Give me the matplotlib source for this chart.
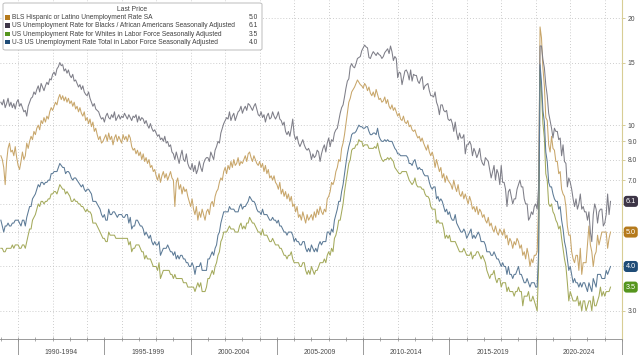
import matplotlib
matplotlib.use("Agg")
import matplotlib.pyplot as plt
import numpy as np
from matplotlib.patches import FancyBboxPatch, Rectangle
from matplotlib.ticker import FixedLocator, NullLocator
from matplotlib.transforms import blended_transform_factory as blend

plt.rcParams['font.family'] = ['Liberation Sans', 'DejaVu Sans']

# monthly values, Jan 1989 .. May 2024
first_year = 1989

hispanic = [
    8.2, 8.0, 7.6, 6.8, 7.9, 8.6, 8.9, 8.4, 8.5, 8.2, 8.7, 8.1,        # 1989
    7.7, 7.5, 7.9, 8.4, 8.0, 8.2, 8.9, 8.6, 9.0, 9.3, 9.1, 9.6,        # 1990
    9.4, 9.8, 10.0, 9.7, 10.3, 10.1, 10.5, 10.2, 10.6, 10.4, 10.9, 11.2,
    11.0, 11.3, 11.6, 11.4, 11.9, 12.2, 11.8, 12.1, 11.7, 12.0, 11.6, 11.9,
    11.5, 11.7, 11.3, 11.6, 11.1, 11.3, 10.9, 11.2, 10.8, 10.6, 10.9, 10.3,
    10.5, 10.1, 10.4, 9.9, 10.2, 9.6, 9.8, 9.4, 9.1, 9.3, 8.9, 9.0,    # 1994
    9.2, 9.4, 9.0, 9.5, 9.1, 9.3, 8.8, 9.2, 9.4, 9.0, 9.3, 9.1,
    8.9, 9.4, 9.1, 9.3, 9.0, 9.4, 9.2, 8.7, 8.5, 8.6, 8.3, 8.5,
    8.2, 8.4, 8.0, 8.3, 7.9, 8.1, 7.8, 8.0, 7.6, 7.7, 7.4, 7.5,
    7.2, 7.0, 7.3, 6.9, 7.2, 7.4, 7.1, 7.3, 7.0, 7.2, 7.4, 7.1,
    7.0, 5.9, 6.9, 7.1, 6.6, 6.8, 6.4, 6.7, 6.5, 6.6, 6.3, 6.1,        # 1999
    5.9, 6.2, 5.8, 5.6, 5.9, 5.4, 5.7, 5.5, 5.8, 5.6, 5.4, 5.7,
    5.8, 5.6, 6.0, 6.1, 5.9, 6.3, 6.5, 6.6, 6.9, 7.1, 7.0, 7.4,
    7.6, 7.3, 7.7, 7.5, 7.9, 7.6, 8.0, 7.7, 7.8, 8.1, 7.7, 7.9,
    7.8, 8.0, 8.2, 7.9, 8.3, 8.4, 8.1, 7.9, 8.2, 8.0, 7.8, 7.7,
    7.9, 7.6, 7.8, 7.4, 7.7, 7.3, 7.5, 7.1, 7.2, 7.0, 7.2, 6.9,        # 2004
    6.8, 6.6, 6.9, 6.4, 6.6, 6.3, 6.5, 6.2, 6.4, 6.1, 6.3, 5.9,
    6.0, 5.7, 5.9, 5.5, 5.6, 5.4, 5.7, 5.5, 5.3, 5.6, 5.4, 5.5,
    5.6, 5.4, 5.7, 5.5, 5.8, 5.6, 5.9, 5.7, 5.6, 5.8, 5.7, 6.2,
    6.3, 6.5, 6.9, 6.8, 7.0, 7.4, 7.6, 8.0, 7.9, 8.6, 8.9, 9.4,
    10.1, 10.8, 11.6, 11.9, 12.4, 12.6, 12.8, 13.1, 13.4, 13.2, 13.0, 12.9,  # 2009
    12.7, 13.1, 12.9, 12.5, 12.8, 12.3, 12.1, 12.4, 12.0, 12.6, 12.2, 11.8,
    11.9, 11.6, 11.7, 12.0, 11.5, 11.8, 11.3, 11.1, 11.4, 11.0, 11.2, 10.9,
    10.6, 10.8, 10.4, 10.3, 10.6, 10.2, 10.1, 10.3, 9.9, 10.0, 9.7, 9.6,
    9.7, 9.4, 9.2, 9.3, 9.0, 9.2, 8.9, 8.7, 8.5, 8.8, 8.4, 8.2,
    8.4, 8.1, 7.6, 8.0, 7.7, 7.4, 7.6, 7.1, 7.3, 6.9, 7.2, 7.0,        # 2014
    6.9, 6.8, 6.6, 7.0, 6.7, 6.5, 6.8, 6.4, 6.3, 6.5, 6.2, 6.4,
    6.2, 6.0, 6.3, 6.1, 5.8, 5.9, 5.7, 5.9, 5.6, 5.8, 5.7, 5.5,
    5.6, 5.4, 5.3, 5.5, 5.2, 5.3, 5.1, 5.0, 5.2, 5.0, 4.9, 5.1,
    5.0, 4.9, 5.1, 4.8, 4.9, 4.6, 4.8, 4.7, 4.5, 4.7, 4.6, 4.8,
    4.7, 4.5, 4.6, 4.3, 4.4, 4.2, 4.5, 4.3, 4.0, 4.2, 4.1, 4.3,        # 2019
    4.3, 4.4, 6.0, 18.9, 17.6, 14.5, 12.9, 10.5, 10.3, 8.8, 8.4, 9.3,
    8.6, 8.5, 7.9, 7.9, 7.3, 7.4, 6.6, 6.4, 6.3, 5.9, 5.2, 4.9,
    4.9, 4.4, 4.2, 4.1, 4.3, 4.3, 3.9, 4.5, 3.8, 4.1, 4.1, 4.1,
    4.6, 5.2, 4.6, 4.4, 4.0, 4.3, 4.4, 4.9, 4.6, 4.8, 5.0, 5.0,
    5.0, 5.0, 4.5, 4.8, 5.0,                                           # 2024
]

black = [
    11.6, 11.4, 11.8, 11.2, 11.5, 11.9, 11.3, 11.6, 11.2, 11.5, 11.1, 11.6,  # 1989
    11.8, 11.3, 11.5, 11.2, 10.9, 11.0, 10.6, 11.3, 11.6, 11.9, 12.0, 12.4,
    12.2, 12.6, 12.9, 12.4, 13.1, 12.8, 12.5, 12.9, 13.2, 13.0, 13.5, 13.4,
    13.9, 14.1, 13.8, 14.4, 14.6, 15.0, 14.7, 14.8, 14.2, 14.4, 14.0, 14.3,
    13.8, 13.6, 13.9, 13.3, 13.4, 13.1, 12.8, 13.0, 12.6, 12.9, 12.4, 12.2,
    12.1, 12.4, 11.9, 11.6, 11.3, 11.5, 11.1, 11.0, 10.9, 10.6, 10.4, 10.5,  # 1994
    10.2, 10.6, 10.8, 10.5, 10.4, 10.7, 10.5, 10.9, 10.3, 10.5, 10.7, 10.4,
    10.6, 10.5, 10.8, 10.6, 10.4, 10.7, 10.5, 10.3, 10.6, 10.5, 10.7, 10.2,
    10.6, 10.3, 10.5, 10.4, 10.1, 10.3, 10.0, 9.8, 10.1, 9.8, 9.6, 9.7,
    9.5, 9.3, 9.4, 9.1, 9.2, 9.0, 9.3, 8.9, 9.0, 8.7, 8.8, 8.4,
    8.3, 8.0, 8.4, 8.1, 7.8, 8.2, 8.5, 8.0, 7.9, 8.3, 7.8, 7.6,        # 1999
    7.5, 7.8, 7.4, 7.7, 7.3, 7.5, 7.9, 7.6, 7.4, 7.8, 8.0, 8.1,
    8.1, 7.9, 8.4, 8.2, 8.0, 8.5, 8.7, 9.0, 8.9, 9.5, 9.8, 10.1,
    10.3, 10.5, 10.4, 10.9, 10.3, 10.6, 10.8, 10.3, 10.6, 10.9, 11.0, 11.3,
    10.8, 11.1, 11.3, 11.0, 11.5, 11.4, 11.2, 11.0, 11.3, 11.5, 11.1, 10.7,
    10.6, 10.9, 10.5, 10.7, 10.2, 10.6, 10.8, 10.4, 10.5, 10.9, 10.6, 10.4,  # 2004
    10.6, 10.9, 10.4, 10.3, 10.0, 10.2, 9.6, 9.4, 9.6, 9.3, 9.8, 10.4,
    9.4, 9.1, 9.3, 8.9, 8.7, 8.9, 9.1, 8.8, 8.6, 8.5, 8.6, 8.4,
    8.0, 8.3, 8.1, 8.2, 8.5, 8.4, 7.9, 8.3, 8.6, 8.8, 8.4, 8.9,
    9.2, 8.7, 9.1, 9.0, 9.5, 9.7, 9.8, 10.3, 10.8, 11.2, 11.4, 12.0,
    12.7, 13.3, 13.5, 14.6, 14.9, 14.6, 14.5, 14.9, 15.4, 15.5, 15.6, 16.2,  # 2009
    16.5, 16.8, 16.6, 16.5, 15.5, 15.4, 15.8, 16.1, 15.9, 15.7, 16.0, 15.8,
    15.7, 15.4, 15.6, 16.0, 16.2, 16.4, 15.9, 16.7, 16.1, 15.2, 15.6, 15.4,
    13.6, 14.1, 14.0, 13.0, 13.6, 14.2, 14.3, 14.0, 13.4, 14.3, 13.3, 13.9,
    13.8, 13.8, 13.3, 13.1, 13.5, 13.7, 12.6, 12.9, 13.0, 13.1, 12.5, 12.1,
    12.1, 12.0, 12.4, 11.6, 11.3, 10.7, 11.4, 11.4, 11.0, 10.9, 11.0, 10.4,  # 2014
    10.3, 10.4, 10.1, 9.6, 10.2, 9.5, 9.1, 9.5, 9.2, 9.2, 9.4, 8.3,
    8.8, 8.8, 9.0, 8.8, 8.2, 8.6, 8.4, 8.1, 8.3, 8.6, 8.0, 7.8,
    7.7, 8.1, 8.0, 7.9, 7.5, 7.1, 7.4, 7.7, 7.0, 7.5, 7.3, 6.8,
    7.7, 6.9, 6.9, 6.6, 5.9, 6.5, 6.6, 6.3, 6.0, 6.2, 6.2, 6.6,
    6.8, 7.0, 6.7, 6.7, 6.2, 6.0, 6.0, 5.4, 5.5, 5.7, 5.6, 5.9,        # 2019
    6.0, 5.8, 6.7, 16.7, 16.7, 15.3, 14.5, 13.0, 12.1, 10.8, 10.3, 9.8,
    9.2, 9.8, 9.6, 9.6, 9.1, 9.2, 8.2, 8.8, 7.9, 7.8, 6.7, 7.1,
    6.9, 6.6, 6.2, 5.9, 6.2, 5.8, 6.0, 6.4, 5.8, 5.9, 5.7, 5.7,
    5.4, 5.7, 5.0, 4.7, 5.6, 6.0, 5.8, 5.3, 5.7, 5.8, 5.8, 5.2,
    5.3, 5.6, 6.4, 5.6, 6.1,                                           # 2024
]

white = [
    4.5, 4.5, 4.4, 4.4, 4.5, 4.5, 4.5, 4.5, 4.6, 4.5, 4.6, 4.6,        # 1989
    4.6, 4.5, 4.5, 4.6, 4.6, 4.5, 4.7, 4.9, 5.1, 5.1, 5.4, 5.5,
    5.6, 5.8, 6.0, 5.9, 6.1, 6.1, 6.0, 6.1, 6.1, 6.2, 6.2, 6.4,
    6.4, 6.5, 6.5, 6.4, 6.6, 6.8, 6.7, 6.6, 6.6, 6.4, 6.5, 6.4,
    6.3, 6.1, 6.1, 6.2, 6.1, 6.1, 6.0, 6.0, 5.9, 5.9, 5.8, 5.7,
    5.8, 5.7, 5.7, 5.6, 5.3, 5.3, 5.3, 5.2, 5.1, 5.0, 4.9, 4.8,        # 1994
    4.8, 4.7, 4.7, 5.0, 4.9, 4.9, 4.9, 4.9, 4.8, 4.8, 4.8, 4.8,
    4.8, 4.8, 4.8, 4.8, 4.8, 4.6, 4.7, 4.4, 4.5, 4.5, 4.6, 4.6,
    4.6, 4.5, 4.4, 4.4, 4.2, 4.3, 4.2, 4.2, 4.2, 4.1, 4.0, 4.0,
    4.0, 3.9, 4.1, 3.7, 3.8, 3.9, 3.9, 3.9, 3.9, 3.9, 3.8, 3.8,
    3.7, 3.8, 3.7, 3.7, 3.7, 3.7, 3.7, 3.6, 3.6, 3.6, 3.5, 3.5,        # 1999
    3.5, 3.5, 3.5, 3.4, 3.5, 3.6, 3.5, 3.6, 3.4, 3.4, 3.4, 3.5,
    3.7, 3.7, 3.8, 3.9, 3.8, 4.0, 4.1, 4.3, 4.4, 4.7, 4.8, 5.0,
    5.0, 5.0, 5.1, 5.2, 5.1, 5.1, 5.1, 5.0, 5.0, 5.0, 5.2, 5.3,
    5.1, 5.2, 5.1, 5.3, 5.3, 5.5, 5.4, 5.3, 5.3, 5.2, 5.1, 5.0,
    5.0, 4.9, 5.1, 4.9, 4.9, 4.9, 4.8, 4.7, 4.7, 4.8, 4.7, 4.6,        # 2004
    4.6, 4.6, 4.5, 4.5, 4.4, 4.3, 4.3, 4.2, 4.3, 4.3, 4.4, 4.2,
    4.1, 4.1, 4.1, 4.1, 4.0, 4.0, 4.1, 4.1, 3.9, 3.8, 3.9, 3.8,
    4.0, 3.9, 3.8, 3.9, 3.9, 4.0, 4.1, 4.1, 4.1, 4.2, 4.1, 4.3,
    4.4, 4.3, 4.5, 4.4, 4.8, 4.9, 5.1, 5.4, 5.4, 5.7, 6.0, 6.5,
    6.9, 7.3, 7.8, 8.0, 8.5, 8.6, 8.6, 8.8, 8.8, 9.1, 9.0, 9.0,        # 2009
    8.7, 8.8, 8.8, 8.8, 8.6, 8.6, 8.6, 8.6, 8.7, 8.6, 8.9, 8.5,
    8.2, 8.0, 7.9, 8.0, 8.0, 8.1, 8.0, 8.1, 8.0, 7.9, 7.6, 7.5,
    7.4, 7.3, 7.3, 7.4, 7.4, 7.4, 7.4, 7.2, 7.0, 6.9, 6.8, 6.9,
    7.1, 6.8, 6.7, 6.7, 6.7, 6.6, 6.6, 6.4, 6.3, 6.3, 6.2, 5.9,
    5.8, 5.8, 5.8, 5.3, 5.4, 5.3, 5.3, 5.3, 5.1, 4.8, 4.9, 4.8,        # 2014
    4.9, 4.7, 4.7, 4.7, 4.7, 4.6, 4.5, 4.4, 4.4, 4.4, 4.5, 4.4,
    4.3, 4.3, 4.3, 4.4, 4.2, 4.3, 4.3, 4.4, 4.4, 4.3, 4.2, 4.3,
    4.2, 4.1, 3.9, 3.8, 3.7, 3.8, 3.8, 3.9, 3.7, 3.6, 3.7, 3.7,
    3.5, 3.6, 3.6, 3.6, 3.4, 3.5, 3.4, 3.4, 3.4, 3.3, 3.4, 3.4,
    3.5, 3.4, 3.4, 3.1, 3.3, 3.3, 3.3, 3.4, 3.2, 3.2, 3.3, 3.2,        # 2019
    3.1, 3.0, 4.0, 14.2, 12.4, 10.1, 9.2, 7.3, 7.0, 6.0, 5.9, 6.0,
    5.7, 5.6, 5.4, 5.3, 5.1, 5.2, 4.8, 4.5, 4.2, 4.0, 3.6, 3.2,
    3.4, 3.3, 3.2, 3.2, 3.2, 3.3, 3.1, 3.2, 3.0, 3.2, 3.2, 3.0,
    3.1, 3.2, 3.2, 3.0, 3.3, 3.1, 3.1, 3.2, 3.3, 3.5, 3.3, 3.4,
    3.3, 3.4, 3.4, 3.4, 3.5,                                           # 2024
]

total = [
    5.4, 5.2, 5.0, 5.2, 5.2, 5.3, 5.2, 5.2, 5.3, 5.3, 5.4, 5.4,        # 1989
    5.4, 5.3, 5.2, 5.4, 5.4, 5.2, 5.5, 5.7, 5.9, 5.9, 6.2, 6.3,
    6.4, 6.6, 6.8, 6.7, 6.9, 6.9, 6.8, 6.9, 6.9, 7.0, 7.0, 7.3,
    7.3, 7.4, 7.4, 7.4, 7.6, 7.8, 7.7, 7.6, 7.6, 7.3, 7.4, 7.4,
    7.3, 7.1, 7.0, 7.1, 7.1, 7.0, 6.9, 6.8, 6.7, 6.8, 6.6, 6.5,
    6.6, 6.6, 6.5, 6.4, 6.1, 6.1, 6.1, 6.0, 5.9, 5.8, 5.6, 5.5,        # 1994
    5.6, 5.4, 5.4, 5.8, 5.6, 5.6, 5.7, 5.7, 5.6, 5.5, 5.6, 5.6,
    5.6, 5.5, 5.5, 5.6, 5.6, 5.3, 5.5, 5.1, 5.2, 5.2, 5.4, 5.4,
    5.3, 5.2, 5.2, 5.1, 4.9, 5.0, 4.9, 4.8, 4.9, 4.7, 4.6, 4.7,
    4.6, 4.6, 4.7, 4.3, 4.4, 4.5, 4.5, 4.5, 4.6, 4.5, 4.4, 4.4,
    4.3, 4.4, 4.2, 4.3, 4.2, 4.3, 4.3, 4.2, 4.2, 4.1, 4.1, 4.0,        # 1999
    4.0, 4.1, 4.0, 3.8, 4.0, 4.0, 4.0, 4.1, 3.9, 3.9, 3.9, 3.9,
    4.2, 4.2, 4.3, 4.4, 4.3, 4.5, 4.6, 4.9, 5.0, 5.3, 5.5, 5.7,
    5.7, 5.7, 5.7, 5.9, 5.8, 5.8, 5.8, 5.7, 5.7, 5.7, 5.9, 6.0,
    5.8, 5.9, 5.9, 6.0, 6.1, 6.3, 6.2, 6.1, 6.1, 6.0, 5.8, 5.7,
    5.7, 5.6, 5.8, 5.6, 5.6, 5.6, 5.5, 5.4, 5.4, 5.5, 5.4, 5.4,        # 2004
    5.3, 5.4, 5.2, 5.2, 5.1, 5.0, 5.0, 4.9, 5.0, 5.0, 5.0, 4.9,
    4.7, 4.8, 4.7, 4.7, 4.6, 4.6, 4.7, 4.7, 4.5, 4.4, 4.5, 4.4,
    4.6, 4.5, 4.4, 4.5, 4.4, 4.6, 4.7, 4.6, 4.7, 4.7, 4.7, 5.0,
    5.0, 4.9, 5.1, 5.0, 5.4, 5.6, 5.8, 6.1, 6.1, 6.5, 6.8, 7.3,
    7.8, 8.3, 8.7, 9.0, 9.4, 9.5, 9.5, 9.6, 9.8, 10.0, 9.9, 9.9,       # 2009
    9.8, 9.8, 9.9, 9.9, 9.6, 9.4, 9.4, 9.5, 9.5, 9.4, 9.8, 9.3,
    9.1, 9.0, 9.0, 9.1, 9.0, 9.1, 9.0, 9.0, 9.0, 8.8, 8.6, 8.5,
    8.3, 8.3, 8.2, 8.2, 8.2, 8.2, 8.2, 8.1, 7.8, 7.8, 7.7, 7.9,
    8.0, 7.7, 7.5, 7.6, 7.5, 7.5, 7.3, 7.2, 7.2, 7.2, 6.9, 6.7,
    6.6, 6.7, 6.7, 6.2, 6.3, 6.1, 6.2, 6.1, 5.9, 5.7, 5.8, 5.6,        # 2014
    5.7, 5.5, 5.4, 5.4, 5.6, 5.3, 5.2, 5.1, 5.0, 5.0, 5.1, 5.0,
    4.8, 4.9, 5.0, 5.1, 4.8, 4.9, 4.8, 4.9, 5.0, 4.9, 4.7, 4.7,
    4.7, 4.6, 4.4, 4.4, 4.4, 4.3, 4.3, 4.4, 4.3, 4.2, 4.2, 4.1,
    4.0, 4.1, 4.0, 4.0, 3.8, 4.0, 3.8, 3.8, 3.7, 3.8, 3.8, 3.9,
    4.0, 3.8, 3.8, 3.7, 3.6, 3.6, 3.7, 3.6, 3.5, 3.6, 3.6, 3.6,        # 2019
    3.5, 3.5, 4.4, 14.8, 13.2, 11.0, 10.2, 8.4, 7.9, 6.9, 6.7, 6.7,
    6.4, 6.2, 6.1, 6.1, 5.8, 5.9, 5.4, 5.1, 4.7, 4.5, 4.2, 3.9,
    4.0, 3.8, 3.6, 3.7, 3.6, 3.6, 3.5, 3.6, 3.5, 3.6, 3.6, 3.5,
    3.4, 3.6, 3.5, 3.4, 3.7, 3.6, 3.5, 3.8, 3.8, 3.8, 3.7, 3.7,
    3.7, 3.9, 3.8, 3.9, 4.0,                                           # 2024
]

names = [
    "BLS Hispanic or Latino Unemployment Rate SA",
    "US Unemployment Rate for Blacks / African Americans Seasonally Adjusted",
    "US Unemployment Rate for Whites in Labor Force Seasonally Adjusted",
    "U-3 US Unemployment Rate Total in Labor Force Seasonally Adjusted",
]
series = [hispanic, black, white, total]
line_colors = ['#c8a66a', '#7e7e88', '#a4aa5c', '#5c7a96']
key_colors = ['#b57a1c', '#3d3547', '#55951d', '#1f4c77']

y_ticks = [3, 4, 5, 6, 7, 8, 9, 10, 15, 20]
periods = ['1990-1994', '1995-1999', '2000-2004', '2005-2009',
           '2010-2014', '2015-2019', '2020-2024']

W, H = 640, 355
fig = plt.figure(figsize=(W / 100, H / 100), dpi=100)
ax = fig.add_axes([0, 16 / H, 622 / W, 339 / H])

months = first_year + np.arange(len(total)) / 12
for vals, c in zip(series, line_colors):
    ax.plot(months, vals, color=c, lw=0.75, zorder=3)

ax.set_yscale('log')
ax.set_ylim(2.5, 22.5)
ax.set_xlim(1988.95, 2025)

# tick labels hidden where a last-value tag sits on top of them
last_vals = [s[-1] for s in series]
def tick_text(v):
    if any(abs(np.log10(v / lv)) < 0.02 for lv in last_vals):
        return ''
    return f'{v:.1f}' if v < 10 else f'{v:d}'

ax.yaxis.set_major_locator(FixedLocator(y_ticks))
ax.yaxis.set_minor_locator(NullLocator())
ax.set_yticklabels([tick_text(v) for v in y_ticks])
ax.yaxis.tick_right()
ax.tick_params(axis='y', which='major', direction='out', length=2.5, width=0.6,
               color='#cfc48a', labelsize=4.9, labelcolor='#4a4a4a', pad=1.5)

years = np.arange(1989, 2026)
ax.set_xticks(years[years % 2 == 0])
ax.set_xticks(years, minor=True)
ax.tick_params(axis='x', which='both', direction='inout', length=3, width=0.5,
               color='#888888', labelbottom=False)
ax.grid(True, which='major', color='#bdbdbd', linestyle=(0, (1, 2.5)), linewidth=0.6)

ax.spines['top'].set_visible(False)
ax.spines['left'].set_visible(False)
ax.spines['right'].set_color('#d8cd94')
ax.spines['right'].set_linewidth(0.8)
ax.spines['bottom'].set_color('#8a8a8a')
ax.spines['bottom'].set_linewidth(0.6)

# period labels under the axis
tr = blend(ax.transData, ax.transAxes)
starts = [int(p[:4]) for p in periods]
for p, a in zip(periods, starts):
    ax.text(a + 2.5, -0.04, p, transform=tr, ha='center', va='center',
            fontsize=4.9, color='#4a4a4a')
ax.vlines(starts + [int(periods[-1][-4:]) + 1], -0.06, 0, transform=tr,
          clip_on=False, color='#8a8a8a', lw=0.6)

# last value tags on the right axis
tr2 = blend(ax.transAxes, ax.transData)
for v, c in zip(last_vals, key_colors):
    ax.text(1.006, v, f'{v:.1f}', transform=tr2, ha='left', va='center',
            fontsize=5.2, color='white', clip_on=False, zorder=6,
            bbox=dict(boxstyle='round,pad=0.28,rounding_size=0.4', fc=c, ec='none'))

# legend box
def fxy(x, y):
    return x / W, 1 - y / H

box = FancyBboxPatch(fxy(3, 50), 259 / W, 47 / H,
                     boxstyle='round,pad=0,rounding_size=0.004',
                     transform=fig.transFigure, fc='white', ec='#bdbdbd', lw=0.7)
fig.add_artist(box)
fig.text(*fxy(132, 9.5), 'Last Price', ha='center', va='center', fontsize=4.9, color='#404040')
rows_y = [17.5, 25.5, 34, 42]
for yv, name, c, v in zip(rows_y, names, key_colors, last_vals):
    fig.add_artist(Rectangle(fxy(5, yv + 2.3), 4.6 / W, 4.6 / H,
                             transform=fig.transFigure, fc=c, ec='none'))
    fig.text(*fxy(12.5, yv), name, ha='left', va='center', fontsize=4.8, color='#404040')
    fig.text(*fxy(258, yv), f'{v:.1f}', ha='right', va='center',
             fontsize=4.8, color='#404040')

fig.savefig('out.png', dpi=100)
